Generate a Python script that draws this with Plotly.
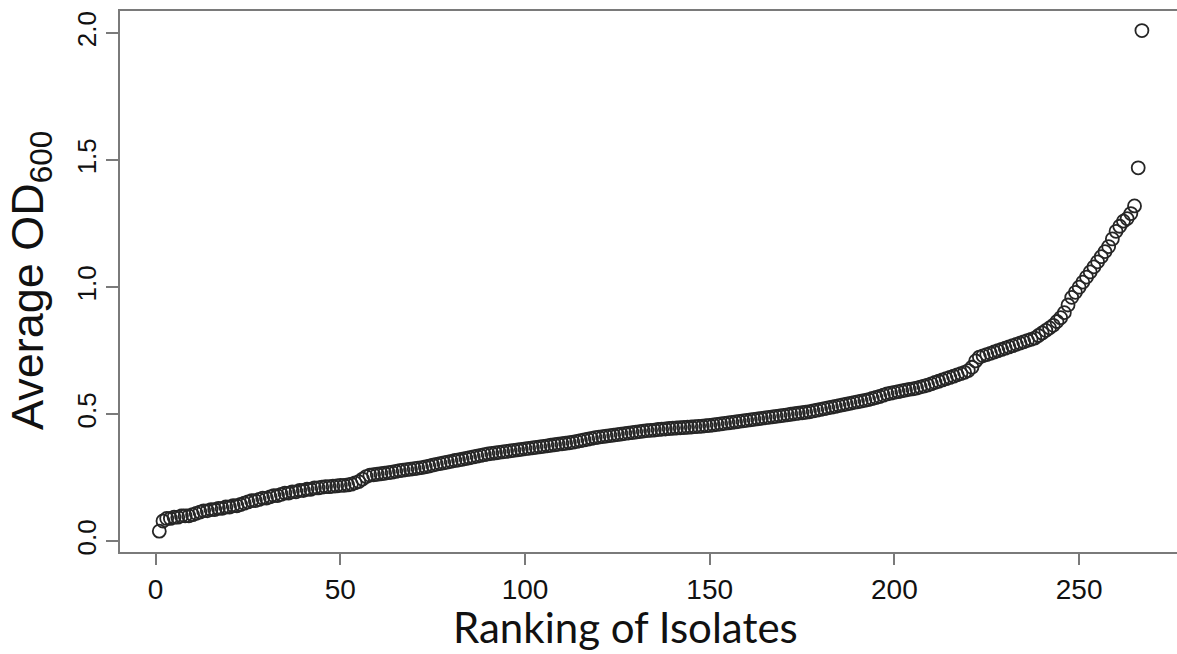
import plotly.graph_objects as go

ranks = list(range(1, 268))
avg_od600 = [
    0.04, 0.08, 0.09, 0.09, 0.095, 0.095, 0.10, 0.10, 0.10, 0.105,
    0.11, 0.115, 0.12, 0.12, 0.125, 0.125, 0.13, 0.13, 0.135, 0.135,
    0.14, 0.14, 0.145, 0.15, 0.155, 0.16, 0.16, 0.165, 0.17, 0.17,
    0.175, 0.18, 0.18, 0.185, 0.19, 0.19, 0.195, 0.195, 0.20, 0.20,
    0.205, 0.205, 0.21, 0.21, 0.213, 0.215, 0.215, 0.217, 0.218, 0.22,
    0.22, 0.222, 0.225, 0.23, 0.235, 0.245, 0.255, 0.26, 0.262, 0.264,
    0.266, 0.268, 0.27, 0.272, 0.275, 0.278, 0.28, 0.282, 0.284, 0.286,
    0.288, 0.29, 0.293, 0.296, 0.30, 0.303, 0.306, 0.309, 0.312, 0.315,
    0.318, 0.32, 0.323, 0.326, 0.329, 0.332, 0.335, 0.338, 0.341, 0.344,
    0.346, 0.348, 0.35, 0.352, 0.354, 0.356, 0.358, 0.36, 0.362, 0.364,
    0.366, 0.368, 0.37, 0.372, 0.374, 0.376, 0.378, 0.38, 0.382, 0.384,
    0.386, 0.388, 0.39, 0.393, 0.396, 0.399, 0.402, 0.405, 0.408, 0.41,
    0.412, 0.414, 0.416, 0.418, 0.42, 0.422, 0.424, 0.426, 0.428, 0.43,
    0.432, 0.434, 0.436, 0.437, 0.438, 0.44, 0.441, 0.442, 0.444, 0.445,
    0.446, 0.447, 0.448, 0.449, 0.45, 0.451, 0.452, 0.453, 0.455, 0.456,
    0.458, 0.46, 0.462, 0.464, 0.466, 0.468, 0.47, 0.472, 0.474, 0.476,
    0.478, 0.48, 0.482, 0.484, 0.486, 0.488, 0.49, 0.492, 0.494, 0.496,
    0.498, 0.50, 0.502, 0.504, 0.506, 0.508, 0.51, 0.513, 0.516, 0.519,
    0.522, 0.525, 0.528, 0.531, 0.534, 0.537, 0.54, 0.543, 0.546, 0.549,
    0.552, 0.555, 0.558, 0.562, 0.566, 0.57, 0.575, 0.58, 0.583, 0.586,
    0.589, 0.592, 0.595, 0.598, 0.60, 0.603, 0.607, 0.611, 0.615, 0.62,
    0.625, 0.63, 0.635, 0.64, 0.645, 0.65, 0.655, 0.66, 0.665, 0.672,
    0.685, 0.71, 0.725, 0.73, 0.735, 0.74, 0.745, 0.75, 0.755, 0.76,
    0.765, 0.77, 0.775, 0.78, 0.785, 0.79, 0.795, 0.80, 0.81, 0.82,
    0.83, 0.84, 0.85, 0.865, 0.88, 0.90, 0.93, 0.96, 0.98, 1.00,
    1.02, 1.04, 1.06, 1.08, 1.10, 1.12, 1.14, 1.16, 1.19, 1.22,
    1.24, 1.26, 1.27, 1.29, 1.32, 1.47, 2.01,
]
x_ticks = [0, 50, 100, 150, 200, 250]
y_ticks = [0.0, 0.5, 1.0, 1.5, 2.0]
y_tick_labels = ["0.0", "0.5", "1.0", "1.5", "2.0"]
x_title = "Ranking of Isolates"
y_title = "Average OD<sub>600</sub>"

frame = "#7a7a7a"
fig = go.Figure()
fig.add_trace(go.Scatter(
    x=ranks, y=avg_od600, mode="markers",
    marker=dict(symbol="circle-open", size=13, color="#262626",
                line=dict(width=1.8, color="#262626")),
    showlegend=False, hoverinfo="skip",
))

fig.update_layout(
    width=1177, height=654,
    margin=dict(l=120, r=0, t=11, b=102),
    paper_bgcolor="white", plot_bgcolor="white",
    xaxis=dict(
        range=[-9.64, 276.5], tickvals=x_ticks, ticktext=[str(v) for v in x_ticks],
        showgrid=False, zeroline=False, showline=True, mirror=True,
        linecolor=frame, linewidth=2, ticks="outside", ticklen=11,
        tickwidth=2, tickcolor=frame,
        tickfont=dict(family="Liberation Sans Narrow, Liberation Sans", size=28, color="#111111"),
    ),
    yaxis=dict(
        range=[-0.042, 2.087], tickvals=y_ticks, ticktext=y_tick_labels,
        showgrid=False, zeroline=False, showline=True, mirror=False,
        linecolor=frame, linewidth=2, ticks="outside", ticklen=12,
        tickwidth=2, tickcolor=frame, tickangle=-90,
        tickfont=dict(family="Liberation Sans, Arial", size=26, color="#111111"),
    ),
    annotations=[
        dict(text=x_title, xref="paper", yref="paper",
             x=(625 - 120) / 1057, y=(552 - 627) / 541,
             xanchor="center", yanchor="middle", showarrow=False,
             font=dict(family="Lato, Open Sans", size=42, color="#111111")),
        dict(text=y_title, xref="paper", yref="paper",
             x=(30 - 120) / 1057, y=(552 - 281) / 541, textangle=-90,
             xanchor="center", yanchor="middle", showarrow=False,
             font=dict(family="Liberation Sans, Arial", size=45, color="#111111")),
    ],
)

fig.write_html("out.html")
